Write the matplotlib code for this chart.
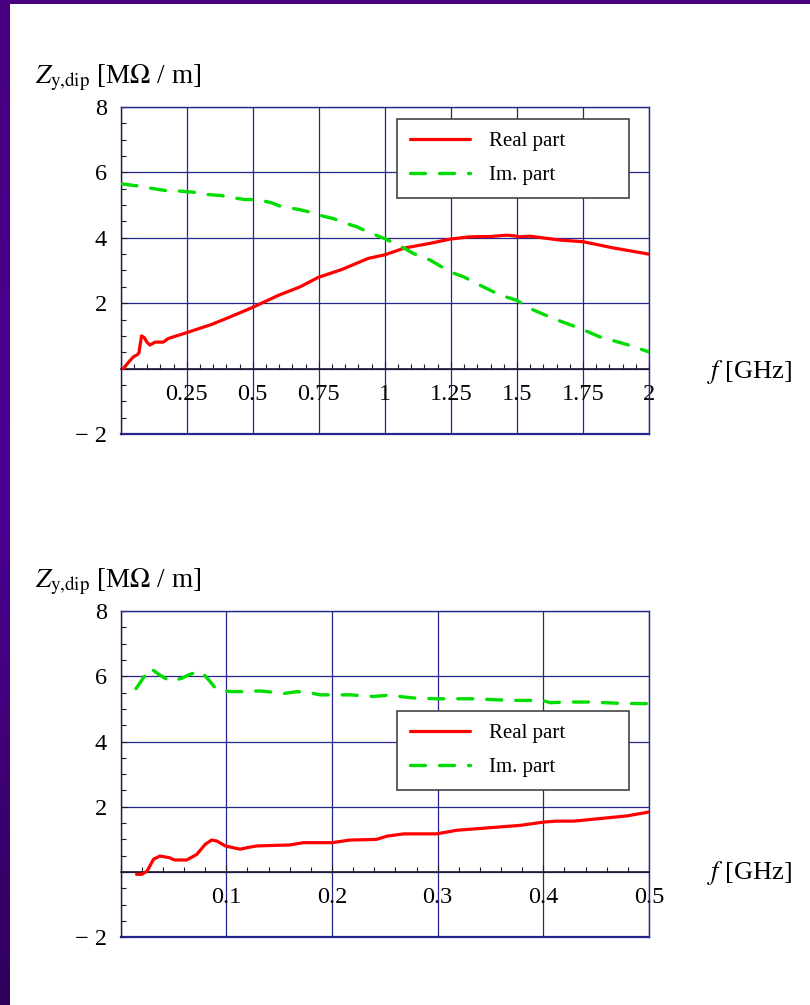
import numpy as np
import matplotlib
matplotlib.use('Agg')
import matplotlib.pyplot as plt
from matplotlib.ticker import MultipleLocator, FuncFormatter
from matplotlib.colors import LinearSegmentedColormap

plt.rcParams['font.family'] = ['Liberation Serif', 'DejaVu Serif']
plt.rcParams['mathtext.fontset'] = 'stix'

# top panel: 0 - 2 GHz
top_f_re = [0.01, 0.03, 0.048, 0.062, 0.069, 0.074, 0.079, 0.089, 0.1, 0.111, 0.13, 0.161, 0.18,
            0.25, 0.344, 0.42, 0.496, 0.597, 0.679, 0.748, 0.837, 0.937, 1.0, 1.076, 1.171, 1.247,
            1.322, 1.40, 1.461, 1.49, 1.51, 1.55, 1.587, 1.663, 1.751, 1.865, 2.0]
top_re = [0.0, 0.2, 0.36, 0.42, 0.48, 0.75, 1.0, 0.95, 0.8, 0.72, 0.81, 0.81, 0.92,
          1.1, 1.35, 1.6, 1.86, 2.24, 2.5, 2.79, 3.03, 3.37, 3.48, 3.69, 3.83, 3.96,
          4.03, 4.04, 4.08, 4.06, 4.03, 4.05, 4.01, 3.93, 3.88, 3.69, 3.5]
top_f_im = [0.005, 0.014, 0.05, 0.079, 0.104, 0.18, 0.22, 0.281, 0.32, 0.382, 0.42, 0.47, 0.52,
            0.571, 0.609, 0.672, 0.71, 0.767, 0.805, 0.834, 0.893, 0.935, 0.998, 1.019, 1.076,
            1.108, 1.171, 1.247, 1.30, 1.36, 1.436, 1.499, 1.549, 1.638, 1.739, 1.814, 1.915, 2.0]
top_im = [5.65, 5.64, 5.6, 5.58, 5.53, 5.43, 5.43, 5.39, 5.33, 5.29, 5.23, 5.17, 5.17,
          5.07, 4.95, 4.87, 4.8, 4.66, 4.59, 4.49, 4.34, 4.18, 3.98, 3.9, 3.67,
          3.52, 3.32, 2.96, 2.8, 2.55, 2.25, 2.09, 1.84, 1.53, 1.23, 0.97, 0.74, 0.51]

# bottom panel: 0 - 0.5 GHz
bot_f_re = [0.015, 0.02, 0.025, 0.031, 0.037, 0.046, 0.051, 0.0625, 0.072, 0.080, 0.086, 0.091,
            0.099, 0.113, 0.12, 0.129, 0.160, 0.173, 0.2, 0.217, 0.242, 0.252, 0.268, 0.299,
            0.318, 0.378, 0.400, 0.412, 0.429, 0.479, 0.5]
bot_re = [-0.07, -0.07, 0.03, 0.39, 0.49, 0.44, 0.37, 0.37, 0.54, 0.85, 0.98, 0.95,
          0.8, 0.7, 0.75, 0.8, 0.83, 0.9, 0.9, 0.98, 1.0, 1.1, 1.17, 1.17,
          1.28, 1.43, 1.53, 1.56, 1.56, 1.72, 1.84]
bot_f_im = [0.0145, 0.02, 0.028, 0.036, 0.047, 0.058, 0.065, 0.072, 0.076, 0.0846, 0.091, 0.1035,
            0.115, 0.132, 0.141, 0.154, 0.167, 0.181, 0.189, 0.217, 0.239, 0.257, 0.266, 0.279,
            0.299, 0.334, 0.354, 0.375, 0.399, 0.4066, 0.422, 0.444, 0.473, 0.5]
bot_im = [5.62, 5.88, 6.25, 6.06, 5.84, 5.94, 6.05, 6.13, 6.15, 5.84, 5.58, 5.53,
          5.53, 5.55, 5.52, 5.47, 5.53, 5.48, 5.43, 5.43, 5.38, 5.43, 5.37, 5.33,
          5.31, 5.31, 5.28, 5.26, 5.26, 5.19, 5.21, 5.21, 5.17, 5.16]

navy = '#26268f'
W, H = 810, 1005

fig = plt.figure(figsize=(8.1, 10.05), dpi=100)
fig.patch.set_facecolor('white')

# purple slide border (left and top)
cmap = LinearSegmentedColormap.from_list('border', ['#46007f', '#4c0092', '#30005c'])
bl = fig.add_axes([0, 0, 10 / W, 1])
bl.imshow(np.linspace(0, 1, 200)[:, None], aspect='auto', cmap=cmap)
bl.axis('off')
bt = fig.add_axes([0, 1 - 4 / H, 1, 4 / H])
bt.imshow([[0.0]], aspect='auto', cmap=cmap, vmin=0, vmax=1)
bt.axis('off')


def fmt(v, p):
    if abs(v) < 1e-9:
        return ''
    s = '%g' % v
    return s.replace('-', '\u2212 ')


def panel(rect, f_re, re, f_im, im, xmax, xmajor, xminor, leg_y, lab_y, f_y):
    ax = fig.add_axes(rect)
    ax.set_xlim(0, xmax)
    ax.set_ylim(-2, 8)

    ax.plot(f_re, re, color='#ff0000', lw=2.3, label='Real part', zorder=3,
            solid_capstyle='round', solid_joinstyle='round')
    ax.plot(f_im, im, color='#00dd00', lw=2.4, label='Im. part', zorder=3,
            dashes=(4.5, 4.2), dash_capstyle='round')

    ax.xaxis.set_major_locator(MultipleLocator(xmajor))
    ax.xaxis.set_minor_locator(MultipleLocator(xminor))
    ax.yaxis.set_major_locator(MultipleLocator(2))
    ax.yaxis.set_minor_locator(MultipleLocator(0.5))
    ax.xaxis.set_major_formatter(FuncFormatter(fmt))
    ax.yaxis.set_major_formatter(FuncFormatter(fmt))

    ax.grid(True, which='major', color=navy, lw=0.9, zorder=1)
    ax.set_axisbelow(True)

    # mathematica-like axes crossing at the origin, framed
    ax.spines['bottom'].set_position(('data', 0))
    ax.spines['bottom'].set_color('#1a1a2a')
    ax.spines['bottom'].set_linewidth(1.2)
    ax.spines['left'].set_color('#1a1a3a')
    ax.spines['left'].set_linewidth(1.0)
    for s in ['top', 'right']:
        ax.spines[s].set_color(navy)
        ax.spines[s].set_linewidth(1.0)
    ax.axhline(-2, color=navy, lw=1.6, clip_on=False, zorder=2)

    ax.tick_params(axis='both', which='both', direction='in', color='#1a1a2a', width=0.8)
    ax.tick_params(axis='both', which='major', length=5, labelsize=17.5)
    ax.tick_params(axis='both', which='minor', length=3.5)
    ax.tick_params(axis='x', which='major', pad=11)
    ax.tick_params(axis='y', which='major', pad=10)

    leg = ax.legend(loc='upper left', bbox_to_anchor=(0.523, leg_y - 0.2, 0.439, 0.2),
                    mode='expand', borderaxespad=0, fancybox=False, framealpha=1,
                    edgecolor='#444444', fontsize=15, handlelength=2.9, handletextpad=0.9,
                    labelspacing=0.7, borderpad=0.6)
    leg.get_frame().set_linewidth(1.2)
    leg.set_zorder(5)

    fig.text(35 / W, lab_y, r'$Z_{\mathrm{y{,}dip}}$ [M$\Omega$ / m]', fontsize=19.5,
             va='center', ha='left')
    fig.text(707 / W, f_y, r'$f$ [GHz]', fontsize=19, va='center', ha='left')
    return ax


ax1 = panel([120.7 / W, 1 - 434 / H, 528.3 / W, 327 / H], top_f_re, top_re, top_f_im, top_im,
            2.0, 0.25, 0.05, 0.963, 1 - 78 / H, 1 - 372 / H)
ax2 = panel([120.7 / W, 1 - 937.3 / H, 528.3 / W, 326.3 / H], bot_f_re, bot_re, bot_f_im, bot_im,
            0.5, 0.1, 0.02, 0.6935, 1 - 582 / H, 1 - 873 / H)

plt.savefig('out.png', dpi=100)
